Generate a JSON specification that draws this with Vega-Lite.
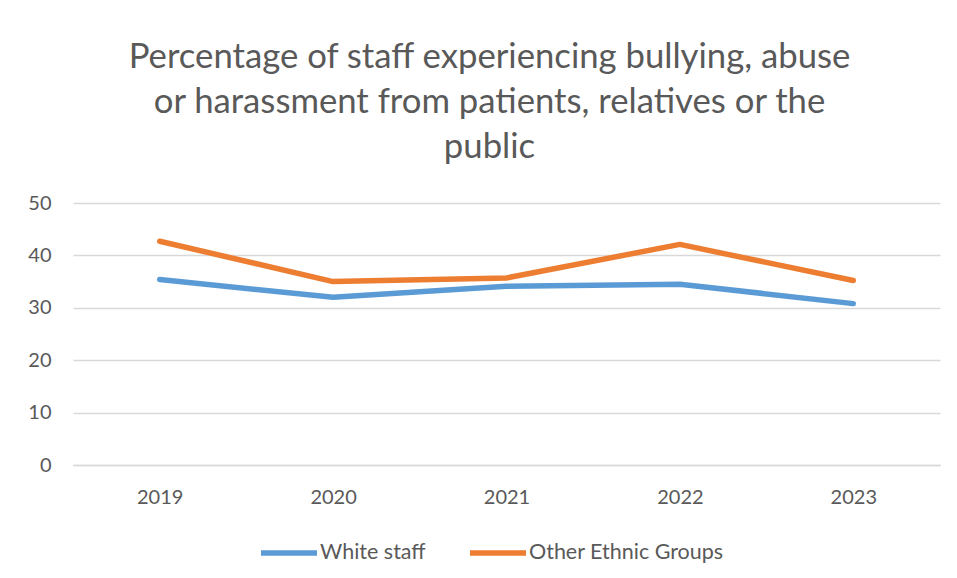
{
  "$schema": "https://vega.github.io/schema/vega-lite/v6.json",
  "width": 867,
  "height": 262,
  "autosize": {"type": "none"},
  "padding": {"left": 73, "top": 203, "right": 17, "bottom": 113},
  "background": "white",
  "title": {
    "text": ["Percentage of staff experiencing bullying, abuse", "or harassment from patients, relatives or the", "public"],
    "font": "Lato",
    "fontSize": 34.7,
    "fontWeight": "normal",
    "color": "#595959",
    "lineHeight": 45,
    "anchor": "middle",
    "dx": -17,
    "offset": 27
  },
  "data": {
    "values": [
      {"year": "2019", "group": "White staff", "value": 35.4},
      {"year": "2020", "group": "White staff", "value": 32.0},
      {"year": "2021", "group": "White staff", "value": 34.1},
      {"year": "2022", "group": "White staff", "value": 34.5},
      {"year": "2023", "group": "White staff", "value": 30.8},
      {"year": "2019", "group": "Other Ethnic Groups", "value": 42.7},
      {"year": "2020", "group": "Other Ethnic Groups", "value": 35.0},
      {"year": "2021", "group": "Other Ethnic Groups", "value": 35.7},
      {"year": "2022", "group": "Other Ethnic Groups", "value": 42.1},
      {"year": "2023", "group": "Other Ethnic Groups", "value": 35.2}
    ]
  },
  "mark": {"type": "line", "strokeWidth": 5.5, "strokeCap": "round", "strokeJoin": "round"},
  "encoding": {
    "x": {
      "field": "year", "type": "ordinal", "title": null,
      "scale": {"type": "point", "padding": 0.5},
      "axis": {"labelAngle": 0, "labelFont": "Lato", "labelFontSize": 20, "labelColor": "#595959", "labelPadding": 22, "ticks": false, "domainColor": "#d9d9d9", "domainWidth": 1.5, "grid": false}
    },
    "y": {
      "field": "value", "type": "quantitative", "title": null,
      "scale": {"domain": [0, 50]},
      "axis": {"values": [0, 10, 20, 30, 40, 50], "labelFont": "Lato", "labelFontSize": 20, "labelColor": "#595959", "labelPadding": 22, "ticks": false, "domain": false, "gridColor": "#d9d9d9", "gridWidth": 1.5}
    },
    "color": {
      "field": "group", "type": "nominal", "sort": ["White staff", "Other Ethnic Groups"],
      "scale": {"domain": ["White staff", "Other Ethnic Groups"], "range": ["#5B9BD5", "#ED7D31"]},
      "legend": {"title": null, "orient": "none", "legendX": 185, "legendY": 319, "direction": "horizontal", "symbolType": "stroke", "symbolStrokeWidth": 5.5, "symbolSize": 3136, "labelFont": "Lato", "labelFontSize": 21.5, "labelColor": "#595959", "labelOffset": 0, "labelLimit": 400, "columnPadding": 33}
    }
  },
  "config": {"view": {"stroke": null}}
}
